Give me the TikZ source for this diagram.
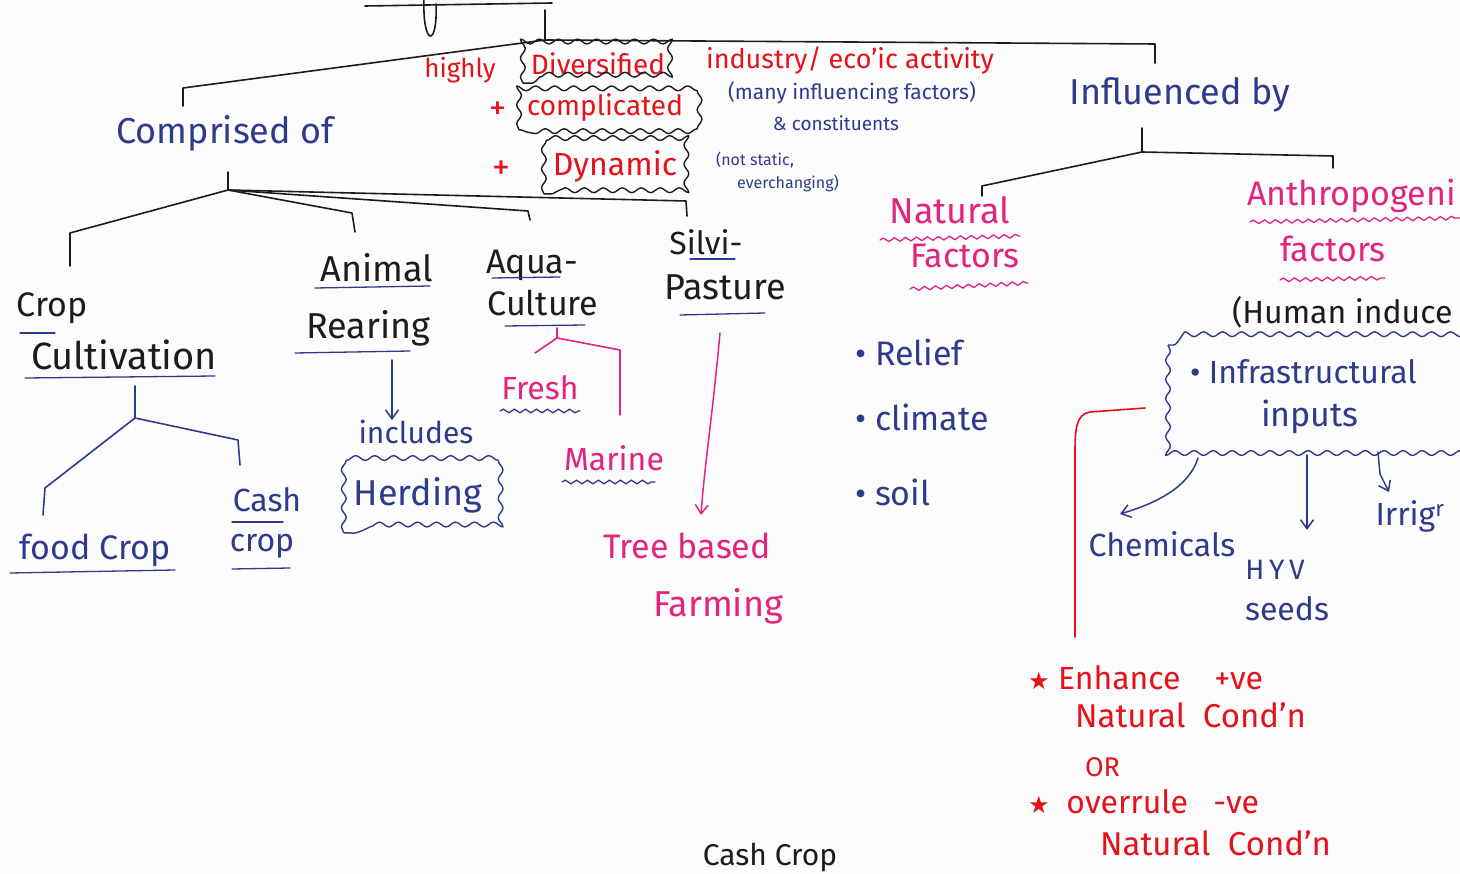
\documentclass[tikz,border=0pt]{standalone}
\usepackage{fontspec}
\setmainfont{Fira Sans}
\newfontfamily\symfont{DejaVu Sans}
\usetikzlibrary{arrows.meta,decorations.pathmorphing,calc}
\definecolor{inkblue}{HTML}{2E3A8C}
\definecolor{inkred}{HTML}{E3121B}
\definecolor{inkpink}{HTML}{E2247F}
\definecolor{inkblack}{HTML}{1C1C1C}
\definecolor{paper}{HTML}{FCFCFC}
\newcommand\inkstar{{\symfont\fontsize{24}{24}\selectfont ★}}
\tikzset{
  every node/.style={inner sep=0pt, outer sep=0pt},
  fs/.style={font=\fontsize{#1}{#1}\selectfont},
  blk/.style={text=inkblack},
  blu/.style={text=inkblue},
  rd/.style={text=inkred},
  pk/.style={text=inkpink},
  branch/.style={draw=#1, line width=1.6pt, line join=round, line cap=round},
  branch/.default=inkblack,
  cloudline/.style={draw=#1, line width=1.4pt, line join=round,
    decorate, decoration={snake, amplitude=2.4pt, segment length=19pt}},
  wavy/.style={draw=#1, line width=1.3pt, line cap=round,
    decorate, decoration={snake, amplitude=1.8pt, segment length=11pt}},
  uline/.style={draw=inkblue, line width=1.3pt, line cap=round},
  inkarrow/.style={draw=#1, line width=1.5pt, line cap=round,
    -{Straight Barb[length=9pt,width=13pt]}},
}
\begin{document}
\begin{tikzpicture}[x=1pt,y=-1pt]
\useasboundingbox (0,0) rectangle (1460,874);
\clip (0,0) rectangle (1460,874);
\fill[paper] (0,0) rectangle (1460,874);

% ---------- header stroke and main bracket ----------
\coordinate (hl) at (365,6);
\coordinate (hr) at (552,3);
\draw[branch] (hl) -- (hr);
\draw[branch] (424,-4) .. controls (422,48) and (438,48) .. (436,4);
\coordinate (stemtop) at (545,10);
\coordinate (stem) at (545,40);
\draw[branch] (stemtop) -- (stem);
\coordinate (bl) at (183,88);
\coordinate (bld) at (183,106);
\coordinate (br) at (1155,44);
\coordinate (brd) at (1155,63);
\draw[branch] (bld) -- (bl) -- (stem) -- (br) -- (brd);

% ---------- central description ----------
\node[rd,fs=26] (highly) at (460,70) {highly};
\node[rd,fs=28] (div) at (598,64) {Diversified};
\draw[cloudline=inkblack] ($(div.south west)+(-8,8)$) rectangle ($(div.north east)+(8,-9)$);
\node[rd,fs=27] (indus) at (850,60) {industry/ eco'ic activity};
\node[rd,fs=34] (plus1) at (498,111) {+};
\node[rd,fs=28] (compl) at (605,108) {complicated};
\draw[cloudline=inkblack] ($(compl.south west)+(-8,8)$) rectangle ($(compl.north east)+(8,-8)$);
\node[blu,fs=21] (many) at (852,93) {(many influencing factors)};
\node[blu,fs=19] (const) at (836,123) {\& constituents};
\node[rd,fs=36] (plus2) at (501,170) {+};
\node[rd,fs=32] (dyn) at (615,166) {Dynamic};
\draw[cloudline=inkblack] ($(dyn.south west)+(-9,12)$) rectangle ($(dyn.north east)+(9,-9)$);
\node[blu,fs=16] (notst) at (755,160) {(not static,};
\node[blu,fs=16] (everch) at (788,183) {everchanging)};

% ---------- left: comprised of ----------
\node[blu,fs=36] (comp) at (225,133) {Comprised of};
\coordinate (ct) at (228,172);
\coordinate (J) at (228,190);
\draw[branch] (ct) -- (J);
\draw[branch] (J) -- (70,233) -- (70,266);
\draw[branch] (J) -- (352,213) -- (355,232);
\draw[branch] (J) -- (528,211) -- (530,220);
\draw[branch] (J) -- (686,201) -- (687,216);

\node[blk,fs=34] (crop) at (52,308) {Crop};
\node[blk,fs=38] (cultiv) at (124,355) {Cultivation};
\draw[uline] (20,333) -- (55,333);
\draw[uline] (25,378) -- (215,376);

\node[blk,fs=36] (animal) at (377,268) {Animal};
\node[blk,fs=36] (rearing) at (368,328) {Rearing};
\draw[uline] (315,288) -- (430,286);
\draw[uline] (295,353) -- (410,351);

\node[blk,fs=34] (aqua) at (532,265) {Aqua-};
\node[blk,fs=34] (culture) at (543,303) {Culture};
\draw[uline] (492,278) -- (560,277);
\draw[uline] (505,326) -- (585,325);

\node[blk,fs=32] (silvi) at (706,242) {Silvi-};
\node[blk,fs=36] (pasture) at (725,287) {Pasture};
\draw[uline] (690,259) -- (735,259);
\draw[uline] (680,315) -- (765,313);

% crop cultivation split
\coordinate (ccs) at (135,386);
\coordinate (L) at (135,418);
\draw[branch=inkblue] (ccs) -- (L);
\draw[branch=inkblue] (L) -- (45,488) -- (43,515);
\draw[branch=inkblue] (L) -- (238,440) -- (240,465);
\node[blu,fs=34] (food) at (95,550) {food Crop};
\draw[uline] (10,573) -- (175,570);
\node[blu,fs=32] (cash) at (267,500) {Cash};
\node[blu,fs=32] (cashcrop) at (262,546) {crop};
\draw[uline] (232,522) -- (283,522);
\draw[uline] (232,569) -- (290,568);

% animal rearing
\node[blu,fs=30] (incl) at (416,432) {includes};
\node[blu,fs=36] (herd) at (418,495) {Herding};
\draw[cloudline=inkblue] ($(herd.south west)+(-10,20)$) rectangle ($(herd.north east)+(10,-14)$);
\draw[inkarrow=inkblue] (392,360) -- (incl.north -| 392,0);

% aquaculture split
\coordinate (aqs) at (557,328);
\coordinate (M) at (557,338);
\draw[branch=inkpink] (aqs) -- (M);
\draw[branch=inkpink] (M) -- (535,353);
\draw[branch=inkpink] (M) -- (620,350) -- (620,415);
\node[pk,fs=32] (fresh) at (540,388) {Fresh};
\draw[wavy=inkblue] (500,411) -- (580,411);
\node[pk,fs=32] (marine) at (614,458) {Marine};
\draw[wavy=inkblue] (562,482) -- (655,482);

% silvi-pasture
\coordinate (spa) at (720,333);
\draw[inkarrow=inkpink] (spa) .. controls (712,420) and (704,470) .. (701,515);
\node[pk,fs=34] (tree) at (687,546) {Tree based};
\node[pk,fs=36] (farm) at (718,606) {Farming};

% ---------- right: influenced by ----------
\node[blu,fs=36] (infl) at (1180,95) {Influenced by};
\coordinate (it) at (1142,128);
\coordinate (K) at (1142,152);
\draw[branch] (it) -- (K);
\draw[branch] (K) -- (982,186) -- (982,196);
\draw[branch] (K) -- (1333,156) -- (1333,168);

\node[pk,fs=36] (natural) at (950,210) {Natural};
\draw[wavy=inkpink] (880,240) -- (1020,236);
\node[pk,fs=34] (nfactors) at (965,256) {Factors};
\draw[wavy=inkpink] (910,289) -- (1028,283);

\node[pk,fs=34,anchor=west] (anthro) at (1247,196) {Anthropogeni};
\draw[wavy=inkpink] (1250,222) -- (1460,218);
\node[pk,fs=34] (afactors) at (1333,249) {factors};
\draw[wavy=inkpink] (1280,280) -- (1385,278);
\node[blk,fs=32,anchor=west] (human) at (1232,312) {(Human induce};

\node[blu,fs=34,anchor=west] (relief) at (855,352) {• Relief};
\node[blu,fs=34,anchor=west] (climate) at (855,417) {• climate};
\node[blu,fs=34,anchor=west] (soil) at (855,492) {• soil};

\node[blu,fs=32,anchor=west] (infra) at (1190,372) {• Infrastructural};
\node[blu,fs=34] (inputs) at (1310,417) {inputs};
\draw[cloudline=inkblue] (1168,345) rectangle (1480,455);

\node[blu,fs=32] (chem) at (1162,544) {Chemicals};
\node[blu,fs=28] (hyv) at (1275,570) {H\,Y\,V};
\node[blu,fs=32] (seeds) at (1287,609) {seeds};
\node[blu,fs=32] (irrig) at (1410,516) {Irrig\textsuperscript{r}};
\draw[inkarrow=inkblue] (1198,458) .. controls (1188,490) and (1150,505) .. (1120,514);
\draw[inkarrow=inkblue] (1307,455) -- (1307,530);
\draw[inkarrow=inkblue] (1378,452) -- (1380,474) -- (1389,492);

% red bracket and notes
\coordinate (rb1) at (1145,408);
\coordinate (rb2) at (1075,637);
\draw[draw=inkred, line width=1.6pt, line cap=round]
  (rb1) -- (1090,412) .. controls (1076,414) and (1075,430) .. (1075,452) -- (rb2);
\node[rd,fs=32,anchor=west] (enh) at (1028,678) {\inkstar\ Enhance\ \ \ \ +ve};
\node[rd,fs=33,anchor=west] (nat1) at (1075,715) {Natural\ \ Cond'n};
\node[rd,fs=27,anchor=west] (or) at (1085,767) {OR};
\node[rd,fs=32,anchor=west] (over) at (1028,802) {\inkstar\ \ overrule\ \ \ -ve};
\node[rd,fs=33,anchor=west] (nat2) at (1100,843) {Natural\ \ Cond'n};

% bottom heading
\node[blk,fs=30,anchor=base] (cashhead) at (770,865) {Cash Crop};
\end{tikzpicture}
\end{document}
